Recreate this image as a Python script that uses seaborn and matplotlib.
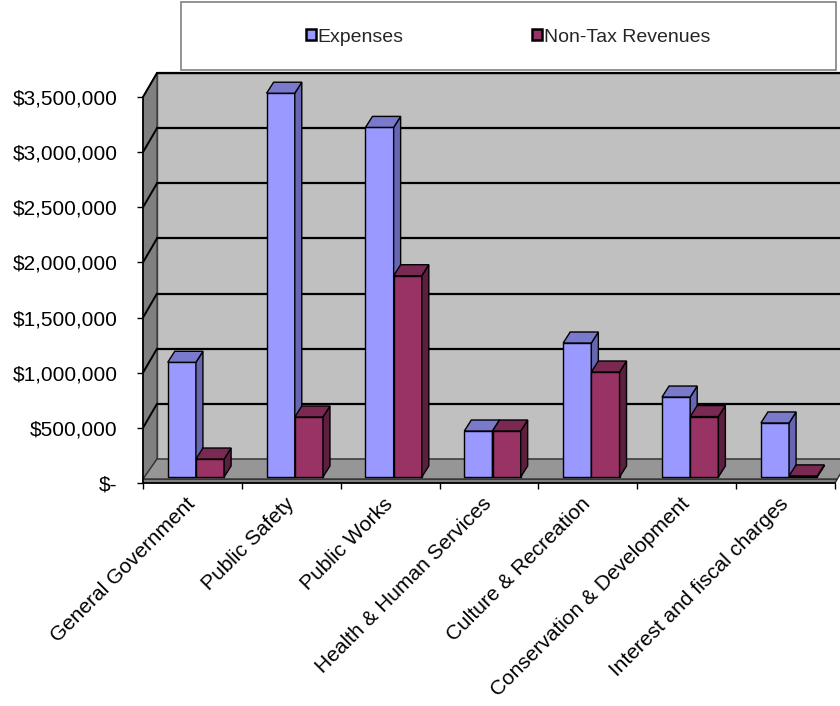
import numpy as np
import pandas as pd
import matplotlib
matplotlib.use('Agg')
import matplotlib.pyplot as plt
from matplotlib.patches import Polygon, Patch, Rectangle
from matplotlib.ticker import FuncFormatter, MultipleLocator
import seaborn as sns

# Data
categories = ['General Government', 'Public Safety', 'Public Works',
              'Health & Human Services', 'Culture & Recreation',
              'Conservation & Development', 'Interest and fiscal charges']
expenses = [1040000, 3480000, 3170000, 417000, 1215000, 725000, 490000]
non_tax_revenues = [163000, 544000, 1825000, 417000, 952000, 548000, 10000]
series_names = ['Expenses', 'Non-Tax Revenues']

front_colors = ['#9999ff', '#993366']
top_colors = ['#7a7acc', '#7a2952']
side_colors = ['#6666b3', '#5c1f3d']

y_max = 3500000
y_step = 500000

sns.set_theme(style='white')
plt.rcParams['font.family'] = ['Liberation Sans', 'DejaVu Sans']


def fmt_dollar(v, pos):
    if abs(v) < 1:
        return '$-'
    return f'${v:,.0f}'


def main():
    df = pd.DataFrame({
        'category': categories * 2,
        'value': expenses + non_tax_revenues,
        'series': [series_names[0]] * len(categories) + [series_names[1]] * len(categories),
    })

    W, H = 840, 706
    fig = plt.figure(figsize=(W / 100, H / 100), dpi=100)
    # front plane of the 3D box, in pixels
    left_px, right_px, top_px, bottom_px = 143, 835, 97, 483
    ax = fig.add_axes([left_px / W, 1 - bottom_px / H,
                       (right_px - left_px) / W, (bottom_px - top_px) / H])

    sns.barplot(data=df, x='category', y='value', hue='series',
                palette=front_colors, saturation=1, width=0.57, gap=0,
                errorbar=None, edgecolor='black', linewidth=1.0,
                legend=False, ax=ax)

    n = len(categories)
    ax.set_xlim(-0.5, n - 0.5)
    ax.set_ylim(0, y_max)

    # pixel -> data unit conversion
    ux = n / (right_px - left_px)
    uy = y_max / (bottom_px - top_px)

    def off(dx, dy):
        return dx * ux, dy * uy

    wall_dx, wall_dy = off(14, 24)     # depth of the whole box
    bar_ox, bar_oy = off(3.5, 6)       # bars sit a bit behind the front plane
    bar_dx, bar_dy = off(7, 11)        # depth of each bar
    slab = 4 * uy                      # floor thickness

    x0, x1 = -0.5, n - 0.5
    # back wall
    ax.add_patch(Polygon([(x0 + wall_dx, wall_dy), (x1 + wall_dx, wall_dy),
                          (x1 + wall_dx, y_max + wall_dy), (x0 + wall_dx, y_max + wall_dy)],
                         closed=True, facecolor='#c0c0c0', edgecolor='#404040',
                         linewidth=1.0, clip_on=False, zorder=0.5))
    # left side wall
    ax.add_patch(Polygon([(x0, 0), (x0 + wall_dx, wall_dy),
                          (x0 + wall_dx, y_max + wall_dy), (x0, y_max)],
                         closed=True, facecolor='#808080', edgecolor='#404040',
                         linewidth=1.0, clip_on=False, zorder=0.6))
    # floor slab front face and top
    ax.add_patch(Polygon([(x0, 0), (x1, 0), (x1 + wall_dx * slab / wall_dy, slab), (x0, slab)],
                         closed=True, facecolor='#808080', edgecolor='#303030',
                         linewidth=1.0, clip_on=False, zorder=0.65))
    ax.add_patch(Polygon([(x0, slab), (x1 + wall_dx * slab / wall_dy, slab),
                          (x1 + wall_dx, wall_dy), (x0 + wall_dx, wall_dy)],
                         closed=True, facecolor='#969696', edgecolor='#303030',
                         linewidth=1.0, clip_on=False, zorder=0.7))
    # gridlines on back and side wall
    for v in np.arange(y_step, y_max + 1, y_step):
        ax.plot([x0 + wall_dx, x1 + wall_dx], [v + wall_dy, v + wall_dy],
                color='black', linewidth=1.6, clip_on=False, zorder=0.8)
        ax.plot([x0, x0 + wall_dx], [v, v + wall_dy],
                color='black', linewidth=1.4, clip_on=False, zorder=0.8)

    # give the seaborn bars a 3D look (first n patches are Expenses, next n Non-Tax)
    rects = [p for p in ax.patches if isinstance(p, Rectangle)][:2 * n]
    tagged = [(p, i // n) for i, p in enumerate(rects)]
    tagged.sort(key=lambda t: t[0].get_x())
    for rank, (p, k) in enumerate(tagged):
        bx = p.get_x() + bar_ox
        bw = p.get_width()
        bh = p.get_height()
        p.set_x(bx)
        p.set_y(bar_oy)
        z = 3 + rank * 0.01
        p.set_zorder(z)
        p.set_clip_on(False)
        side = Polygon([(bx + bw, bar_oy), (bx + bw + bar_dx, bar_oy + bar_dy),
                        (bx + bw + bar_dx, bar_oy + bh + bar_dy), (bx + bw, bar_oy + bh)],
                       closed=True, facecolor=side_colors[k], edgecolor='black',
                       linewidth=1.0, zorder=z + 0.001, clip_on=False)
        top = Polygon([(bx, bar_oy + bh), (bx + bw, bar_oy + bh),
                       (bx + bw + bar_dx, bar_oy + bh + bar_dy), (bx + bar_dx, bar_oy + bh + bar_dy)],
                      closed=True, facecolor=top_colors[k], edgecolor='black',
                      linewidth=1.0, zorder=z + 0.002, clip_on=False)
        ax.add_patch(side)
        ax.add_patch(top)

    # axes styling
    ax.patch.set_visible(False)
    for s in ['top', 'right']:
        ax.spines[s].set_visible(False)
    for s in ['left', 'bottom']:
        ax.spines[s].set_color('black')
        ax.spines[s].set_linewidth(1.2)
        ax.spines[s].set_zorder(5)
    ax.set_xlabel('')
    ax.set_ylabel('')

    ax.yaxis.set_major_locator(MultipleLocator(y_step))
    ax.yaxis.set_major_formatter(FuncFormatter(fmt_dollar))
    ax.tick_params(axis='y', which='major', direction='out', length=4.5, width=1.0,
                   color='black', left=True, labelsize=15, pad=14, labelcolor='black')

    ax.set_xticks(range(n))
    ax.set_xticklabels(categories)
    ax.set_xticks(np.arange(-0.5, n, 1.0), minor=True)
    ax.tick_params(axis='x', which='major', length=0, labelsize=15, pad=13, labelcolor='black')
    ax.tick_params(axis='x', which='minor', direction='out', length=4.5, width=1.0,
                   color='black', bottom=True)
    for lbl in ax.get_xticklabels():
        lbl.set_rotation(45)
        lbl.set_ha('right')
        lbl.set_va('center')
        lbl.set_rotation_mode('anchor')

    # legend with its own frame
    fig.patches.append(Rectangle((181 / W, 1 - 70 / H), 655 / W, 68 / H,
                                 transform=fig.transFigure, fill=False,
                                 edgecolor='#808080', linewidth=1.2))
    handles = [Patch(facecolor=front_colors[i], edgecolor='black', linewidth=1.8)
               for i in range(2)]
    fig.legend(handles, series_names, loc='center', bbox_to_anchor=(508 / W, 1 - 37 / H),
               ncol=2, frameon=False, fontsize=14, handlelength=0.5, handleheight=0.5,
               handletextpad=0.1, columnspacing=6.6)

    fig.savefig('out.png', dpi=100)
    plt.close(fig)


if __name__ == '__main__':
    main()
